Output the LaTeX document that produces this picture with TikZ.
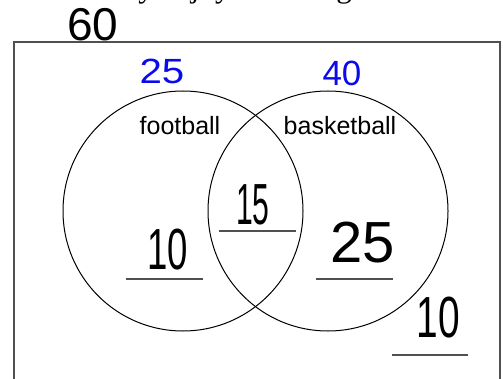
\documentclass[tikz,border=0pt]{standalone}
\usepackage{fontspec}
\setmainfont{Liberation Serif}
\setsansfont{Liberation Sans}
\usetikzlibrary{positioning}
\definecolor{penblue}{RGB}{10,10,235}
\definecolor{rulegray}{RGB}{80,80,80}

\begin{document}
\begin{tikzpicture}[x=1pt,y=1pt,
    hand/.style={font=\sffamily\fontsize{58}{58}\selectfont,inner sep=0pt},
    setname/.style={font=\sffamily\fontsize{25}{25}\selectfont,inner sep=0pt,anchor=base},
    blank/.style={draw=rulegray,line width=1.2pt}]
        \useasboundingbox (0,0) rectangle (503,-379);
        \clip (0,0) rectangle (503,-379);
        % cut-off question line
        \node[font=\fontsize{31}{31}\selectfont,inner sep=0pt,anchor=base east]
              (question) at (464,2) {and if they enjoy watching football.};
        % universe and the two sets
        \draw[rulegray,line width=1.2pt] (14,-400) |- (500,-42) -- (500,-400);
        \draw[line width=1pt] (183,-211) circle (120);
        \draw[line width=1pt] (328,-211) circle (120);
        \node[setname] (fb) at (180,-135) {football};
        \node[setname] (bb) at (340,-135) {basketball};
        % totals
        \node[hand,font=\sffamily\fontsize{46}{46}\selectfont] (total) at (93,-25) {60};
        \node[hand,text=penblue,font=\sffamily\fontsize{35}{35}\selectfont,xscale=1.15]
              (fbtotal) at (162,-71) {25};
        \node[hand,text=penblue,font=\sffamily\fontsize{35}{35}\selectfont]
              (bbtotal) at (342,-73) {40};
        % regions
        \node[hand,xscale=.63] (onlyfb) at (168,-250) {10};
        \node[hand,xscale=.52] (both) at (253,-205) {15};
        \node[hand] (onlybb) at (363,-243) {25};
        \node[hand,xscale=.67] (neither) at (438,-318) {10};
        \draw[blank] (126,-279) -- (203,-279);
        \draw[blank] (219,-231) -- (296,-231);
        \draw[blank] (316,-279) -- (393,-279);
        \draw[blank] (392,-355) -- (468,-355);
      \end{tikzpicture}
\end{document}
